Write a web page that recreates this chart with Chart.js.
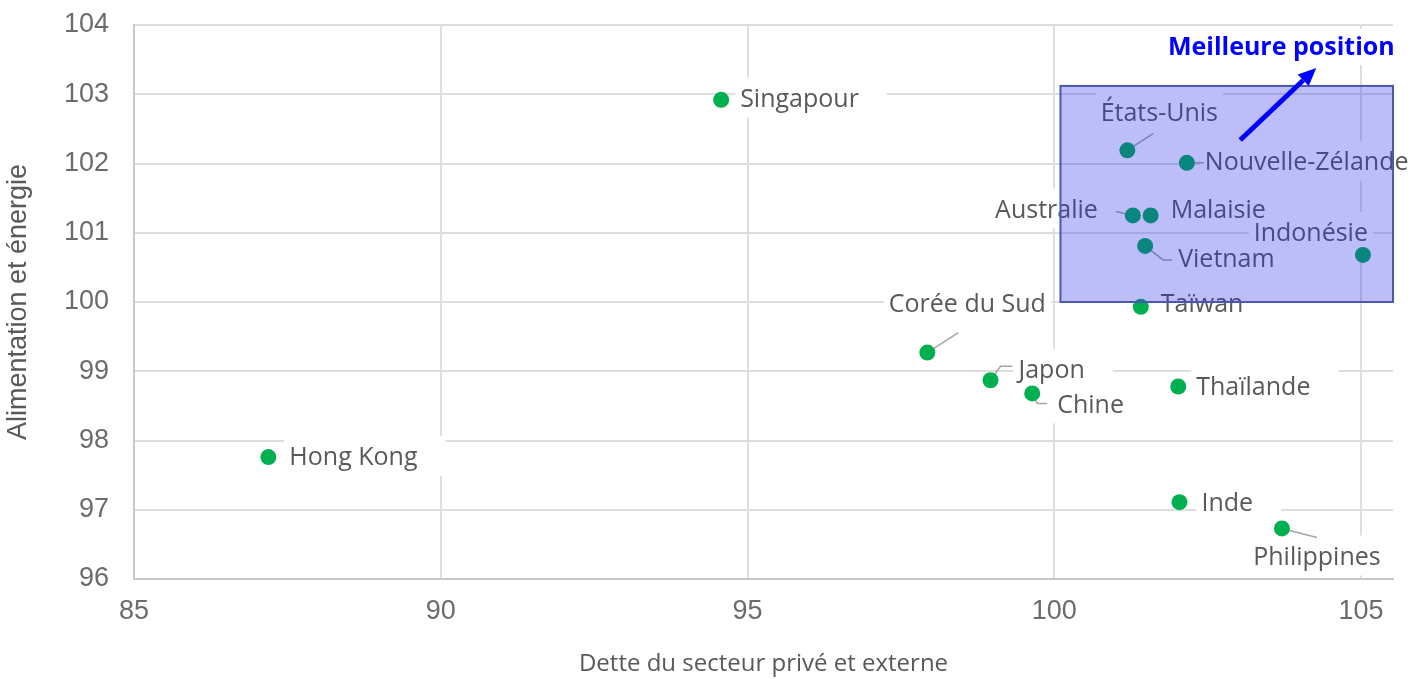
<!DOCTYPE html>
<html lang="fr">
<head>
<meta charset="utf-8">
<title>Dette du secteur privé et externe / Alimentation et énergie</title>
<script src="https://cdn.jsdelivr.net/npm/chart.js@4.4.1/dist/chart.umd.min.js"></script>
<style>
  html, body { margin: 0; padding: 0; background: #ffffff; }
  canvas { display: block; }
</style>
</head>
<body>
<canvas id="chart" width="1426" height="679"></canvas>
<script>
// Economies and their two scores
const countries = ['Singapour', 'Hong Kong', 'Corée du Sud', 'Japon', 'Chine', 'Taïwan', 'Thaïlande', 'Inde',
  'Philippines', 'États-Unis', 'Nouvelle-Zélande', 'Australie', 'Malaisie', 'Vietnam', 'Indonésie'];
const debtScore = [94.57, 87.19, 97.93, 98.96, 99.64, 101.41, 102.02, 102.04,
  103.71, 101.19, 102.16, 101.28, 101.57, 101.48, 105.03];
const foodEnergyScore = [102.92, 97.76, 99.27, 98.87, 98.68, 99.93, 98.78, 97.11,
  96.73, 102.19, 102.01, 101.25, 101.25, 100.81, 100.68];

// Axis ticks
const xTicks = [85, 90, 95, 100, 105];
const yTicks = [96, 97, 98, 99, 100, 101, 102, 103, 104];
const xRange = [85, 105.52];
const yRange = [96, 104];

// "Best position" zone and its arrow, in axis units
const bestZoneX = [100.1, 105.52];
const bestZoneY = [100, 103.12];
const bestArrowX = [103.03, 104.27];
const bestArrowY = [102.34, 103.38];
const bestCaption = 'Meilleure position';
const bestCaptionAt = [103.7, 103.67];

// Where each country label sits relative to its dot (pixels), plus optional leader line
const labelLayout = {
  'Singapour':        { dx: 19,  dy: 0,   align: 'left' },
  'Hong Kong':        { dx: 21,  dy: 1,   align: 'left' },
  'Corée du Sud':     { dx: 40,  dy: -48, align: 'center', leader: [[31, -20]] },
  'Japon':            { dx: 28,  dy: -9,  align: 'left',   leader: [[10, -14], [22, -14]] },
  'Chine':            { dx: 25,  dy: 12,  align: 'left',   leader: [[5, 10], [15, 10]] },
  'Taïwan':           { dx: 20,  dy: -2,  align: 'left' },
  'Thaïlande':        { dx: 18,  dy: 1,   align: 'left' },
  'Inde':             { dx: 22,  dy: 2,   align: 'left' },
  'Philippines':      { dx: 35,  dy: 29,  align: 'center', leader: [[35, 9]] },
  'États-Unis':       { dx: 32,  dy: -36, align: 'center', leader: [[26, -17]] },
  'Nouvelle-Zélande': { dx: 18,  dy: 0,   align: 'left',   leader: [[17, 0]] },
  'Australie':        { dx: -35, dy: -5,  align: 'right',  leader: [[-17, -4]] },
  'Malaisie':         { dx: 20,  dy: -5,  align: 'left' },
  'Vietnam':          { dx: 33,  dy: 14,  align: 'left',   leader: [[18, 14], [27, 14]] },
  'Indonésie':        { dx: 5,   dy: -21, align: 'right' }
};

const LABEL_FONT = '25px "Open Sans"';
const CAPTION_FONT = 'bold 25px "Open Sans"';

const labelPlugin = {
  id: 'countryLabels',
  beforeDatasetsDraw(chart) {
    const { ctx, scales: { x, y } } = chart;
    ctx.save();
    ctx.font = LABEL_FONT;
    const items = countries.map((name, i) => {
      const px = x.getPixelForValue(debtScore[i]);
      const py = y.getPixelForValue(foodEnergyScore[i]);
      const L = labelLayout[name];
      const w = ctx.measureText(name).width;
      const ax = px + L.dx;
      const left = L.align === 'right' ? ax - w : (L.align === 'center' ? ax - w / 2 : ax);
      return { name, px, py, left, w, cy: py + L.dy, L };
    });

    // opaque label boxes hide the grid behind the text
    ctx.fillStyle = '#ffffff';
    items.forEach(it => {
      const pl = 5;
      const pr = it.L.align === 'left' ? 28 : 5;
      ctx.fillRect(it.left - pl, it.cy - 22, it.w + pl + pr, 40);
    });

    // caption box
    ctx.font = CAPTION_FONT;
    const cx = x.getPixelForValue(bestCaptionAt[0]);
    const cyc = y.getPixelForValue(bestCaptionAt[1]);
    const cw = ctx.measureText(bestCaption).width;
    ctx.fillRect(cx - cw / 2 - 6, cyc - 19, cw + 12, 36);

    // leader lines
    ctx.strokeStyle = '#a6a6a6';
    ctx.lineWidth = 1.5;
    items.forEach(it => {
      if (!it.L.leader) return;
      ctx.beginPath();
      ctx.moveTo(it.px, it.py);
      it.L.leader.forEach(([lx, ly]) => ctx.lineTo(it.px + lx, it.py + ly));
      ctx.stroke();
    });

    // label text
    ctx.font = LABEL_FONT;
    ctx.fillStyle = '#595959';
    ctx.textBaseline = 'middle';
    ctx.textAlign = 'left';
    items.forEach(it => ctx.fillText(it.name, it.left, it.cy));
    ctx.restore();
  },
  afterDatasetsDraw(chart) {
    const { ctx, scales: { x, y } } = chart;
    ctx.save();

    // translucent zone over the best-placed economies
    const x0 = x.getPixelForValue(bestZoneX[0]);
    const x1 = x.getPixelForValue(bestZoneX[1]);
    const y0 = y.getPixelForValue(bestZoneY[1]);
    const y1 = y.getPixelForValue(bestZoneY[0]);
    ctx.fillStyle = 'rgba(35, 38, 238, 0.30)';
    ctx.fillRect(x0, y0, x1 - x0, y1 - y0);
    ctx.strokeStyle = '#4a5aa8';
    ctx.lineWidth = 2;
    ctx.strokeRect(x0, y0, x1 - x0, y1 - y0);

    // arrow
    const ax0 = x.getPixelForValue(bestArrowX[0]);
    const ay0 = y.getPixelForValue(bestArrowY[0]);
    const ax1 = x.getPixelForValue(bestArrowX[1]);
    const ay1 = y.getPixelForValue(bestArrowY[1]);
    const ang = Math.atan2(ay1 - ay0, ax1 - ax0);
    const headLen = 18, headHalf = 8;
    const bx = ax1 - headLen * Math.cos(ang);
    const by = ay1 - headLen * Math.sin(ang);
    ctx.strokeStyle = '#0000ff';
    ctx.fillStyle = '#0000ff';
    ctx.lineWidth = 5;
    ctx.beginPath();
    ctx.moveTo(ax0, ay0);
    ctx.lineTo(bx, by);
    ctx.stroke();
    ctx.beginPath();
    ctx.moveTo(ax1, ay1);
    ctx.lineTo(bx + headHalf * Math.sin(ang), by - headHalf * Math.cos(ang));
    ctx.lineTo(bx - headHalf * Math.sin(ang), by + headHalf * Math.cos(ang));
    ctx.closePath();
    ctx.fill();

    // caption
    ctx.font = CAPTION_FONT;
    ctx.textAlign = 'center';
    ctx.textBaseline = 'middle';
    ctx.fillText(bestCaption, x.getPixelForValue(bestCaptionAt[0]), y.getPixelForValue(bestCaptionAt[1]));
    ctx.restore();
  }
};

new Chart(document.getElementById('chart'), {
  type: 'scatter',
  data: {
    datasets: [{
      label: 'Économies',
      data: countries.map((c, i) => ({ x: debtScore[i], y: foodEnergyScore[i] })),
      backgroundColor: '#00b050',
      borderWidth: 0,
      pointRadius: 8,
      pointHoverRadius: 8
    }]
  },
  options: {
    responsive: false,
    animation: false,
    devicePixelRatio: 1,
    layout: { padding: { top: 25, right: 33, left: 0, bottom: 0 } },
    plugins: { legend: { display: false }, tooltip: { enabled: false } },
    scales: {
      x: {
        type: 'linear',
        min: xRange[0],
        max: xRange[1],
        afterBuildTicks: s => { s.ticks = xTicks.map(v => ({ value: v })); },
        afterFit: s => { s.height = 100; s.paddingLeft = 0; s.paddingRight = 0; },
        grid: { color: '#dedede', lineWidth: 2, drawTicks: false },
        border: { display: true, color: '#c8c8c8', width: 2 },
        ticks: {
          padding: 16,
          color: '#6b6b6b',
          font: { family: '"Liberation Sans", Arial, sans-serif', size: 27 }
        },
        title: {
          display: true,
          text: 'Dette du secteur privé et externe',
          color: '#595959',
          font: { family: '"Open Sans"', size: 24 },
          padding: { top: 0, bottom: 0 }
        }
      },
      y: {
        type: 'linear',
        min: yRange[0],
        max: yRange[1],
        afterBuildTicks: s => { s.ticks = yTicks.map(v => ({ value: v })); },
        afterFit: s => { s.width = 134; s.paddingTop = 0; s.paddingBottom = 0; },
        grid: { color: '#dedede', lineWidth: 2, drawTicks: false },
        border: { display: true, color: '#c8c8c8', width: 2 },
        ticks: {
          padding: 25,
          color: '#6b6b6b',
          font: { family: '"Liberation Sans", Arial, sans-serif', size: 27 }
        },
        title: {
          display: true,
          text: 'Alimentation et énergie',
          color: '#595959',
          font: { family: '"Liberation Sans", Arial, sans-serif', size: 27 },
          padding: { top: 2, bottom: 0 }
        }
      }
    }
  },
  plugins: [labelPlugin]
});
</script>
</body>
</html>
